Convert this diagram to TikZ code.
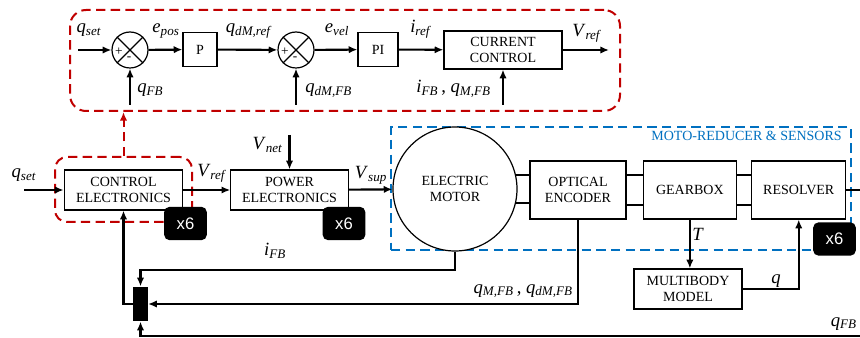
\documentclass[tikz,border=0pt]{standalone}
\usepackage{fontspec}
\setmainfont{Liberation Serif}
\setsansfont{Liberation Sans}
\usepackage{tikz}
\usetikzlibrary{positioning,arrows.meta,calc}
\definecolor{ctrlred}{RGB}{192,0,0}
\definecolor{sensblue}{RGB}{0,112,192}
\newcommand{\sig}[2]{\textit{#1}\textsubscript{\textit{#2}}}
\tikzset{
  blk/.style={draw=black, line width=0.9pt, fill=white, inner sep=1pt,
              font=\fontsize{10.5}{12.5}\selectfont, align=center},
  sumnode/.style={draw, circle, line width=0.9pt, minimum size=27pt, inner sep=0pt},
  badge/.style={fill=black, text=white, rounded corners=4pt, minimum width=32pt,
                minimum height=25pt, font=\fontsize{12.5}{14}\sffamily},
  muxnode/.style={fill=black, minimum width=11pt, minimum height=26pt, inner sep=0pt},
  redbox/.style={draw=ctrlred, dash pattern=on 7pt off 4pt, line width=1.5pt,
                 rounded corners=12pt, inner sep=0pt},
  bluebox/.style={draw=sensblue, dash pattern=on 7pt off 4pt, line width=1.3pt, inner sep=0pt},
  arr/.style={-{Latex[length=6.5pt,width=5.5pt]}, line width=1.6pt},
  redarr/.style={-{Latex[length=6.5pt,width=5.5pt]}, draw=ctrlred, line width=1.5pt,
                 dash pattern=on 7pt off 4pt},
  shaft/.style={line width=0.9pt},
  lbl/.style={font=\fontsize{14}{16}\selectfont, inner sep=0pt},
  sgn/.style={font=\fontsize{10}{10}\selectfont, inner sep=0pt}
}
\begin{document}
\begin{tikzpicture}[x=0.75pt, y=-0.75pt]
  \useasboundingbox (0,0) rectangle (860,338);

  % Frames
  \node[redbox, minimum width=412.5pt, minimum height=75.75pt] (ctrl) at (345,60.5) {};
  \node[redbox, rounded corners=9pt, minimum width=102.75pt, minimum height=48.75pt] (cered) at (123.5,189.5) {};
  \node[bluebox, minimum width=345pt, minimum height=92.25pt] (mrs) at (621,188.5) {};
  \node[font=\fontsize{10.5}{12.5}\selectfont, text=sensblue, anchor=north east, inner sep=0pt]
        (mrslbl) at (842,131) {MOTO-REDUCER \& SENSORS};

  % Controller detail
  \node[sumnode] (s1) at (130,50) {};
  \node[blk, minimum width=25.5pt, minimum height=26pt] (p) at (200,49.5) {P};
  \node[sumnode] (s2) at (296,50) {};
  \node[blk, minimum width=30pt, minimum height=26pt] (pi) at (378,49.5) {PI};
  \node[blk, minimum width=88.5pt, minimum height=28.5pt] (cc) at (503,50) {CURRENT\\CONTROL};
  \foreach \s in {s1,s2}{
    \draw[line width=0.9pt] (\s.north west) -- (\s.south east) (\s.north east) -- (\s.south west);
    \node[sgn] at ($(\s)+(-11,2)$) {+};
    \node[sgn] at ($(\s)+(-1,9)$) {-};
  }

  \coordinate (qset1) at (78,50);
  \coordinate (vref1) at (609,50);
  \coordinate (fb1) at (130,105);
  \coordinate (fb2) at (296,105);
  \coordinate (fb3) at (503,105);
  \draw[arr] (qset1) -- (s1);
  \draw[arr] (s1) -- (p);
  \draw[arr] (p) -- (s2);
  \draw[arr] (s2) -- (pi);
  \draw[arr] (pi) -- (cc);
  \draw[arr] (cc) -- (vref1);
  \draw[arr] (fb1) -- (s1);
  \draw[arr] (fb2) -- (s2);
  \draw[arr] (fb3) -- (cc);

  \node[lbl, anchor=base] at (89,33) {\sig{q}{set}};
  \node[lbl, anchor=base] at (166,33) {\sig{e}{pos}};
  \node[lbl, anchor=base] at (249,33) {\sig{q}{dM,ref}};
  \node[lbl, anchor=base] at (337,33) {\sig{e}{vel}};
  \node[lbl, anchor=base] at (421,33) {\sig{i}{ref}};
  \node[lbl, anchor=base] at (587,37) {\sig{V}{ref}};
  \node[lbl, anchor=base west] at (137,93) {\sig{q}{FB}};
  \node[lbl, anchor=base west] at (305,93) {\sig{q}{dM,FB}};
  \node[lbl, anchor=base east] at (491,93) {\sig{i}{FB}\,, \sig{q}{M,FB}};

  % Joint chain
  \node[blk, minimum width=89pt, minimum height=30pt] (ce) at (123.5,190) {CONTROL\\ELECTRONICS};
  \node[blk, minimum width=88pt, minimum height=30pt] (pe) at (289.5,190) {POWER\\ELECTRONICS};
  \node[blk, circle, minimum size=93pt, inner sep=0pt] (motor) at (455,189) {ELECTRIC\\MOTOR};
  \node[blk, minimum width=72pt, minimum height=43.5pt] (enc) at (578,190) {OPTICAL\\ENCODER};
  \node[blk, minimum width=70pt, minimum height=43.5pt, right=12pt of enc] (gear) {GEARBOX};
  \node[blk, minimum width=70.5pt, minimum height=43.5pt, right=10.5pt of gear] (res) {RESOLVER};
  \node[blk, minimum width=81pt, minimum height=30pt] (mb) at (688,289) {MULTIBODY\\MODEL};
  \node[muxnode] (mux) at (140.5,304) {};

  % Shafts
  \draw[shaft] (motor.13) -- (motor.13 -| enc.west) (motor.-13) -- (motor.-13 -| enc.west);
  \foreach \a/\b in {enc/gear,gear/res}{
    \draw[shaft] ($(\a.east)+(0,-15)$) -- ($(\b.west)+(0,-15)$)
                 ($(\a.east)+(0,15)$) -- ($(\b.west)+(0,15)$);
  }

  \coordinate (qset2) at (24,190);
  \coordinate (vnet) at (289.5,135);
  \coordinate (fbr) at (866,336);
  \draw[arr] (qset2) -- (ce);
  \draw[arr] (ce) -- (pe);
  \draw[arr] (vnet) -- (pe);
  \draw[arr] (pe) -- (motor);
  \draw[arr] (motor.south) -- ++(0,18) -| (mux.north);
  \draw[arr] (enc.south) |- (mux.east);
  \draw[arr] (mux.west) -| (ce.south);
  \draw[arr] (res.east) -| (fbr) -| (mux.south);
  \draw[arr] (gear.south) -- (gear.south |- mb.north);
  \draw[arr] (mb.east) -| (res.south);
  \draw[redarr] (cered.north) -- (cered.north |- ctrl.south);

  \node[lbl, anchor=base] at (24,178) {\sig{q}{set}};
  \node[lbl, anchor=base] at (212,177) {\sig{V}{ref}};
  \node[lbl, anchor=base east] at (283,150) {\sig{V}{net}};
  \node[lbl, anchor=base] at (371,179) {\sig{V}{sup}};
  \node[lbl, anchor=base] at (275,256) {\sig{i}{FB}};
  \node[lbl, anchor=base east] at (573,293) {\sig{q}{M,FB}\,, \sig{q}{dM,FB}};
  \node[lbl, anchor=base west] at (692,241) {\textit{T}};
  \node[lbl, anchor=base] at (776,283) {\textit{q}};
  \node[lbl, anchor=base east] at (857,326) {\sig{q}{FB}};

  % Multiplicity badges
  \node[badge] (b1) at (185.5,223.5) {x6};
  \node[badge] (b2) at (344,223.5) {x6};
  \node[badge] (b3) at (834.5,239) {x6};
\end{tikzpicture}
\end{document}
